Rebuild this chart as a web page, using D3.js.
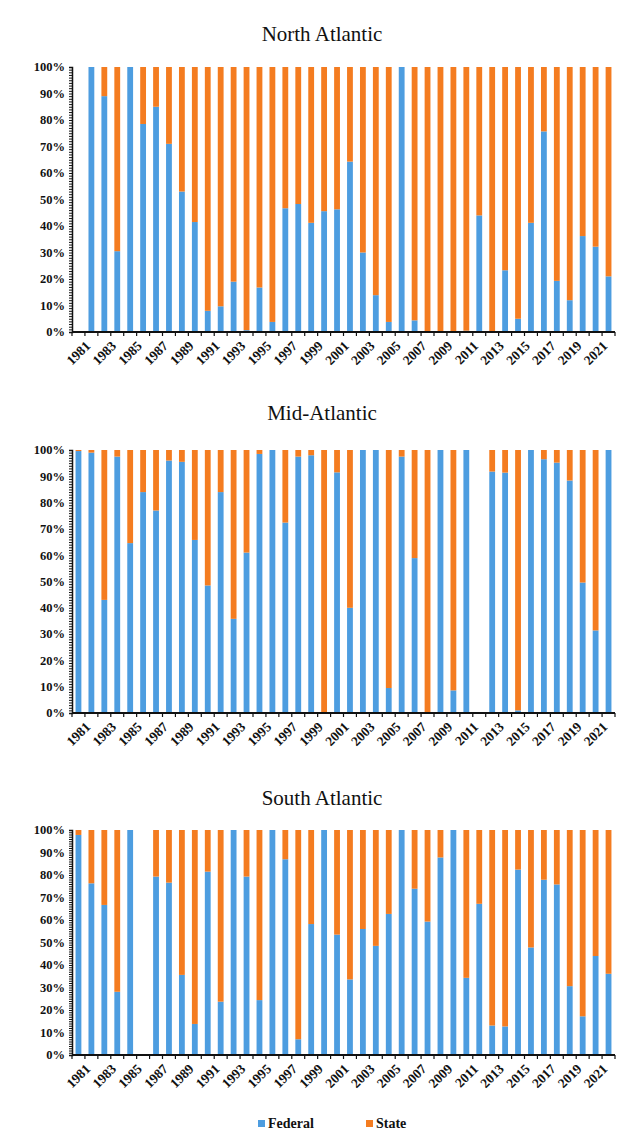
<!DOCTYPE html>
<html><head><meta charset="utf-8">
<script src="https://cdn.jsdelivr.net/npm/d3@7"></script>
<style>
html,body{margin:0;padding:0;background:#fff;}
svg{display:block;}
</style></head>
<body>
<svg id="chart" width="629" height="1137"></svg>
<script>
const years = d3.range(1981, 2023).map(String);
const yTickLabels = ["0%","10%","20%","30%","40%","50%","60%","70%","80%","90%","100%"];
const seriesNames = ["Federal", "State"];
const regionNames = ["North Atlantic", "Mid-Atlantic", "South Atlantic"];

// Federal share (%) per year; null = no data. State = 100 - Federal.
const northFederal = [null,100,89,30.5,100,78.5,85,71,53,41.5,8,9.7,19,0.7,16.8,3.8,46.7,48.3,41.2,45.6,
  46.3,64.3,30,13.9,3.8,100,4.4,0,0,0,0.5,44,0,23.3,5,41.2,75.7,19.3,12,36.2,32.2,21];
const midFederal = [99.6,99,43,97.5,64.6,84,77,96,95.5,65.8,48.5,84,35.8,61,98.5,100,72.4,97.5,98,0,
  91.5,40,100,100,9.5,97.5,58.9,0,100,8.6,100,null,91.8,91.4,1,100,96.5,95.2,88.4,49.6,31.4,100];
const southFederal = [97.8,76.3,66.7,28.1,100,null,79.3,76.6,35.6,13.8,81.5,23.7,100,79.3,24.4,100,87,7,58.2,100,
  53.5,33.6,56,48.5,62.7,100,73.9,59.3,87.8,100,34.3,67.2,13.1,12.7,82.4,47.8,77.9,75.8,30.6,17.2,44,36.1];

const regionFederal = [northFederal, midFederal, southFederal];
const colors = {Federal: "#4d9de0", State: "#f47c20"};

const svg = d3.select("#chart");
const x0 = 72, x1 = 615;
const panels = [
  {titleY: 41, top: 67, bottom: 332},
  {titleY: 420, top: 450, bottom: 713},
  {titleY: 805, top: 830, bottom: 1055}
];

const x = d3.scaleBand().domain(years).range([x0, x1]).paddingInner(0.55).paddingOuter(0.275);
const serif = "'Liberation Serif', 'Times New Roman', serif";

panels.forEach((p, i) => {
  const g = svg.append("g");
  const y = d3.scaleLinear().domain([0, 100]).range([p.bottom, p.top]);
  g.append("text").attr("x", 322).attr("y", p.titleY).attr("text-anchor", "middle")
    .attr("font-family", serif).attr("font-size", 21).attr("fill", "#111").text(regionNames[i]);

  const data = years.map((yr, k) => ({year: yr, fed: regionFederal[i][k]})).filter(d => d.fed !== null);
  const stack = d3.stack().keys(seriesNames).value((d, key) => key === "Federal" ? d.fed : 100 - d.fed)(data);
  stack.forEach(layer => {
    g.append("g").selectAll("rect").data(layer).join("rect")
      .attr("x", d => x(d.data.year))
      .attr("width", x.bandwidth())
      .attr("y", d => y(d[1]))
      .attr("height", d => Math.max(0, y(d[0]) - y(d[1])))
      .attr("fill", colors[layer.key]);
  });

  // y axis with minor ticks
  const yAxis = g.append("g").attr("transform", `translate(${x0},0)`);
  yAxis.call(d3.axisLeft(y).tickValues(d3.range(0, 101, 1)).tickSize(3).tickFormat(""));
  yAxis.selectAll(".tick line").attr("stroke", "#111");
  yAxis.select(".domain").attr("stroke", "#111").attr("stroke-width", 1.5);
  const yLab = g.append("g");
  yLab.selectAll("text").data(yTickLabels).join("text")
    .attr("x", x0 - 7).attr("y", (d, k) => y(k * 10)).attr("dy", "0.35em")
    .attr("text-anchor", "end").attr("font-family", serif).attr("font-weight", "bold")
    .attr("font-size", 12.5).attr("fill", "#111").text(d => d);

  // x axis
  const xAxis = g.append("g").attr("transform", `translate(0,${p.bottom})`);
  const bounds = years.map(yr => x(yr) - x.step() * x.paddingInner() / 2).concat([x1]);
  xAxis.append("line").attr("x1", x0).attr("x2", x1).attr("y1", 0).attr("y2", 0)
    .attr("stroke", "#111").attr("stroke-width", 1.8);
  xAxis.selectAll("line.tk").data(bounds).join("line").attr("class", "tk")
    .attr("x1", d => d).attr("x2", d => d).attr("y1", 0).attr("y2", 4)
    .attr("stroke", "#111").attr("stroke-width", 1.2);
  xAxis.selectAll("text").data(years.filter((d, k) => k % 2 === 0)).join("text")
    .attr("transform", d => `translate(${x(d) + x.bandwidth() / 2 + 6},${8}) rotate(-45)`)
    .attr("text-anchor", "end").attr("dy", "0.7em")
    .attr("font-family", serif).attr("font-weight", "bold").attr("font-size", 13.5)
    .attr("fill", "#111").text(d => d);
});

// legend
const legend = svg.append("g").attr("transform", "translate(0,1128)");
const legX = [258, 366];
seriesNames.forEach((s, k) => {
  legend.append("rect").attr("x", legX[k]).attr("y", -8).attr("width", 7).attr("height", 7).attr("fill", colors[s]);
  legend.append("text").attr("x", legX[k] + 10).attr("y", 0).attr("font-family", serif)
    .attr("font-weight", "bold").attr("font-size", 14).attr("fill", "#111").text(s);
});
</script>
</body></html>
